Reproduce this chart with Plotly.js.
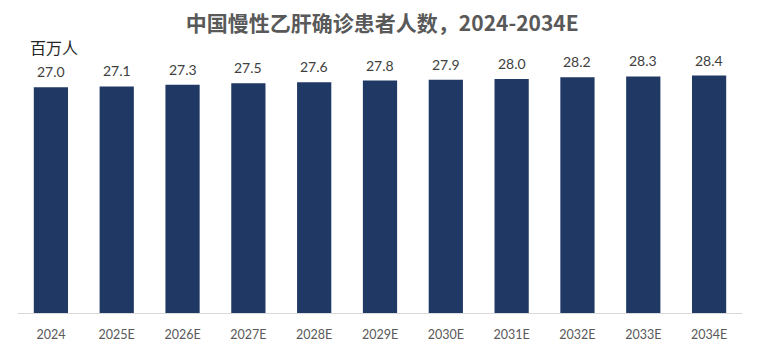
<!DOCTYPE html>
<html>
<head>
<meta charset="utf-8">
<script src="https://cdn.plot.ly/plotly-3.0.1.min.js"></script>
<style>html,body{margin:0;padding:0;background:#fff;}#chart{width:760px;height:351px;}</style>
</head>
<body>
<div id="chart"></div>
<script>
const categories = ["2024","2025E","2026E","2027E","2028E","2029E","2030E","2031E","2032E","2033E","2034E"];
const values = [27.0, 27.1, 27.3, 27.5, 27.6, 27.8, 27.9, 28.0, 28.2, 28.3, 28.4];
const valueLabels = ["27.0","27.1","27.3","27.5","27.6","27.8","27.9","28.0","28.2","28.3","28.4"];
const unitLabel = "百万人";
const chartTitle = "中国慢性乙肝确诊患者人数，2024-2034E";

const cjkFont = "'Noto Sans CJK SC', 'Liberation Sans', sans-serif";
const numFont = "Lato, 'Liberation Sans', sans-serif";
const positions = categories.map((c, i) => i);

const trace = {
  type: "bar",
  x: positions,
  y: values,
  marker: {color: "#1F3864"},
  width: 0.52,
  hoverinfo: "skip"
};

const annotations = positions.map((p, i) => ({
  x: p, y: values[i], xref: "x", yref: "y",
  text: valueLabels[i], showarrow: false,
  yanchor: "bottom", yshift: 5,
  font: {family: numFont, size: 14, color: "#404040"}
}));
annotations.push({
  xref: "paper", yref: "paper", x: 0.0138, y: 0.975,
  xanchor: "left", yanchor: "middle",
  text: unitLabel, showarrow: false,
  font: {family: cjkFont, size: 16, color: "#262626"}
});

const layout = {
  width: 760, height: 351,
  margin: {l: 18, r: 18, t: 40, b: 38, pad: 0},
  paper_bgcolor: "#fff", plot_bgcolor: "#fff",
  title: {
    text: chartTitle, x: 0.503, xref: "container", xanchor: "center",
    y: 1 - 24/351, yref: "container", yanchor: "middle",
    font: {family: cjkFont, size: 21, color: "#595959", weight: "bold"}
  },
  xaxis: {
    type: "linear",
    range: [-0.5, categories.length - 0.5],
    tickmode: "array", tickvals: positions, ticktext: categories,
    showline: true, linecolor: "#D9D9D9", linewidth: 1,
    ticks: "", showgrid: false, zeroline: false,
    ticklabelstandoff: 10,
    tickfont: {family: numFont, size: 12.5, color: "#595959"}
  },
  yaxis: {
    range: [0, 32.66], visible: false, showgrid: false, zeroline: false
  },
  showlegend: false,
  annotations: annotations
};

Plotly.newPlot("chart", [trace], layout, {displayModeBar: false, staticPlot: true});
</script>
</body>
</html>
